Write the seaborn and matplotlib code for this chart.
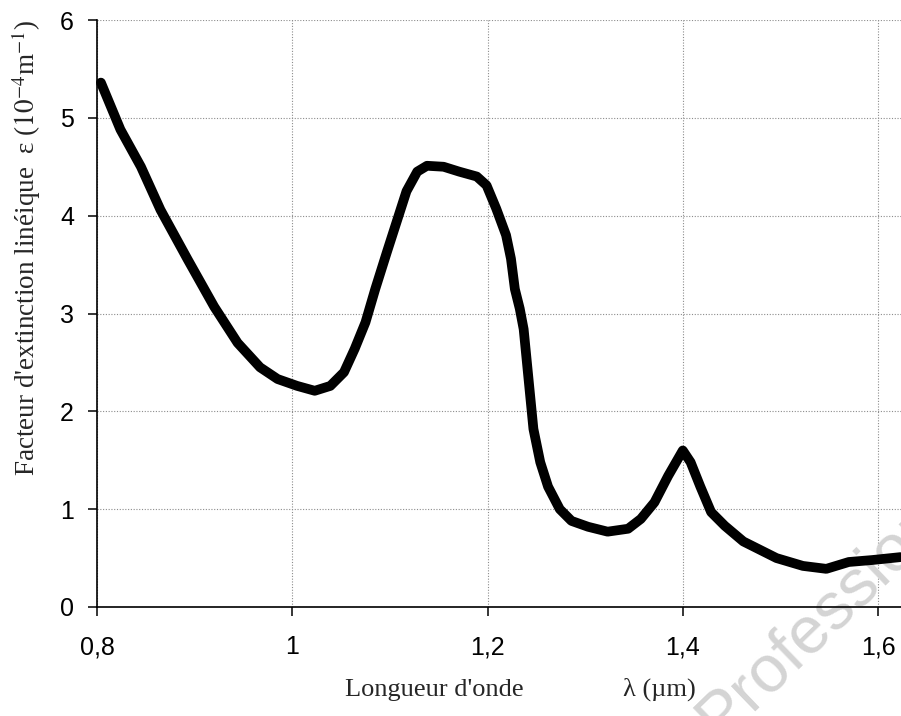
import numpy as np
import pandas as pd
import matplotlib
matplotlib.use("Agg")
import matplotlib.pyplot as plt
import seaborn as sns

# ── data ─────────────────────────────────────────────────
wavelength = [0.804, 0.814, 0.824, 0.845, 0.865, 0.893, 0.920, 0.944, 0.967,
              0.985, 1.005, 1.023, 1.039, 1.053, 1.064, 1.075, 1.085, 1.097,
              1.107, 1.117, 1.128, 1.138, 1.155, 1.171, 1.189, 1.199, 1.209,
              1.219, 1.224, 1.228, 1.233, 1.237, 1.242, 1.247, 1.254, 1.262,
              1.274, 1.286, 1.303, 1.323, 1.344, 1.357, 1.371, 1.385, 1.400,
              1.408, 1.418, 1.429, 1.443, 1.462, 1.496, 1.523, 1.547, 1.570,
              1.594, 1.623]
extinction = [5.36, 5.12, 4.88, 4.50, 4.06, 3.55, 3.07, 2.70, 2.45,
              2.33, 2.26, 2.21, 2.26, 2.40, 2.64, 2.91, 3.25, 3.63,
              3.94, 4.25, 4.45, 4.51, 4.50, 4.45, 4.40, 4.31, 4.07,
              3.80, 3.56, 3.25, 3.05, 2.84, 2.33, 1.82, 1.48, 1.23,
              1.00, 0.88, 0.82, 0.77, 0.80, 0.90, 1.07, 1.34, 1.60,
              1.48, 1.23, 0.97, 0.83, 0.67, 0.50, 0.42, 0.39, 0.46,
              0.48, 0.51]
x_ticks = [0.8, 1.0, 1.2, 1.4, 1.6]
x_tick_labels = ["0,8", "1", "1,2", "1,4", "1,6"]
y_ticks = [0, 1, 2, 3, 4, 5, 6]

df = pd.DataFrame({"lambda": wavelength, "eps": extinction})

# ── style ────────────────────────────────────────────────
sns.set_style("ticks")
plt.rcParams["font.family"] = ["Liberation Sans", "DejaVu Sans"]
plt.rcParams["mathtext.fontset"] = "stix"

fig = plt.figure(figsize=(9.01, 7.16), dpi=100)
ax = fig.add_axes([97 / 901, 109 / 716, (901 - 97) / 901, (607 - 20) / 716])

sns.lineplot(data=df, x="lambda", y="eps", ax=ax, color="black",
             linewidth=7.0, solid_joinstyle="round", solid_capstyle="round",
             clip_on=False, zorder=3)

ax.set_xlim(0.8, 1.6235)
ax.set_ylim(0, 6)
ax.set_xticks(x_ticks)
ax.set_xticklabels(x_tick_labels)
ax.set_yticks(y_ticks)

ax.grid(True, linestyle=(0, (1, 1.5)), color="#8c8c8c", linewidth=0.8)
ax.set_axisbelow(True)
for s in ["top", "right"]:
    ax.spines[s].set_visible(False)
for s in ["left", "bottom"]:
    ax.spines[s].set_color("black")
    ax.spines[s].set_linewidth(1.2)

ax.tick_params(axis="both", direction="out", length=6.5, width=1.1,
               color="black", labelsize=18, labelcolor="black")
ax.tick_params(axis="y", pad=10)
ax.tick_params(axis="x", pad=14)

serif = ["Liberation Serif", "DejaVu Serif"]
ax.set_ylabel("Facteur d'extinction linéique  ε ($10^{-4}$m$^{-1}$)",
              family=serif, fontsize=19.5, loc="top", labelpad=12)
ax.set_xlabel("Longueur d'onde               λ (µm)", family=serif,
              fontsize=19)
ax.xaxis.set_label_coords(0.527, -0.12)

# faint watermark in the corner, behind the curve
ax.text(0.798, -0.035, "Professional", transform=fig.transFigure,
        fontsize=48, color="#d4d4d4", rotation=44, rotation_mode="anchor",
        ha="left", va="baseline", clip_on=False, zorder=1)

fig.savefig("out.png", dpi=100)
